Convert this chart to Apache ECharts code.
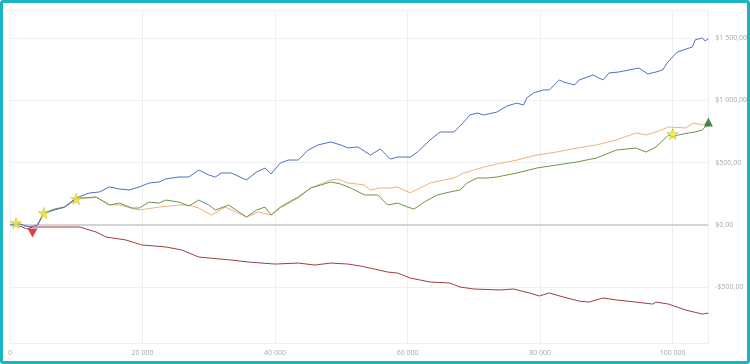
<!DOCTYPE html>
<html>
<head>
<meta charset="utf-8">
<script src="https://cdn.jsdelivr.net/npm/echarts@6/dist/echarts.min.js"></script>
<style>
html,body{margin:0;padding:0;background:#fff;}
#wrap{position:relative;width:750px;height:364px;}
#chart{position:absolute;left:0;top:0;width:750px;height:364px;}
#frame{position:absolute;left:0;top:0;width:750px;height:364px;box-sizing:border-box;border:3px solid #1ab4c1;border-radius:3px;pointer-events:none;}
</style>
</head>
<body>
<div id="wrap"><div id="chart"></div><div id="frame"></div></div>
<script>
// x positions in thousands of trades, values in $
const blueX = [0,1.5,3.0,4.2,5.1,6.7,8.2,10.0,12.0,13.5,15.0,16.5,18.0,19.5,21.0,22.5,23.5,25.5,27.0,28.5,30.0,31.0,31.9,33.4,35.7,37.2,38.5,39.4,40.8,42.0,43.5,45.0,46.5,48.4,49.9,51.0,52.5,54.4,55.9,57.4,58.5,60.4,61.5,63.4,64.9,67.0,68.5,69.4,70.5,71.5,73.5,75.0,76.5,77.5,78.0,79.0,80.5,81.4,82.9,83.5,85.2,85.9,88.0,89.5,90.4,91.9,93.4,94.9,96.3,97.5,98.5,99.3,100.7,101.6,103.0,103.4,104.5,104.9,105.4];
const blueY = [0,8,-16,0,96,120,144,217,257,265,305,289,281,305,337,345,369,385,385,441,401,385,417,417,361,425,457,409,497,521,521,601,642,666,642,618,626,561,610,529,545,545,585,682,746,746,826,882,898,882,906,954,978,962,1019,1059,1083,1083,1163,1147,1123,1163,1203,1163,1219,1227,1243,1259,1211,1227,1243,1307,1387,1403,1428,1484,1500,1476,1492];

const greenX = [0,0.9,2.2,3.4,4.2,5.1,6.7,8.2,10.0,10.9,13.0,15.0,16.5,18.4,19.5,21.0,22.5,23.5,25.5,27.0,28.5,30.0,31.0,33.0,35.7,37.2,38.5,39.4,40.8,43.5,45.4,46.9,48.4,49.9,51.4,53.5,55.5,57.0,58.5,60.0,61.0,62.5,64.5,66.4,67.9,69.0,70.5,72.0,73.5,76.5,79.5,82.5,85.5,88.5,91.5,94.5,96.0,97.5,99.4,100.0,100.9,102.4,103.4,104.5,104.9,105.4];
const greenY = [0,16,-8,-8,8,96,128,144,209,217,225,160,176,136,136,184,176,200,184,152,200,160,120,160,64,120,144,80,144,225,297,321,345,329,297,241,241,160,176,144,128,184,241,265,281,337,377,377,385,417,457,481,505,537,601,617,585,626,722,706,722,738,746,762,786,802];

const orangeX = [0,0.9,2.2,3.4,4.2,5.1,6.7,8.2,10.0,10.9,13.0,15.0,16.5,19.5,22.5,25.5,27.0,28.5,30.4,32.5,35.7,37.5,39.4,40.8,43.5,45.4,48.4,49.5,51.0,53.5,54.4,55.9,57.4,58.5,60.4,61.9,63.4,65.5,67.0,68.5,70.0,71.5,73.5,76.5,79.5,82.5,85.5,88.5,91.5,94.5,96.0,97.5,99.4,102.0,103.1,104.5,105.4];
const orangeY = [0,10,-6,-10,6,92,124,140,205,213,221,165,160,120,144,160,160,136,80,144,64,104,80,136,217,297,361,369,337,321,281,297,297,305,257,297,337,361,377,417,441,465,489,521,561,585,617,642,682,738,722,746,786,778,818,802,826];

const redX = [0,1.5,2.5,3.4,6.0,8.5,10.5,13.0,14.5,17.5,19.9,23.5,25.9,28.5,33.4,36.0,40.0,43.5,46.0,48.4,51.0,52.9,55.0,57.0,58.5,60.4,63.4,66.4,67.9,70.0,73.9,76.0,78.4,79.9,81.4,83.5,85.9,87.4,89.5,91.5,94.5,97.0,97.5,99.4,102.0,104.5,105.4];
const redY = [0,-8,-32,-16,-16,-16,-16,-56,-96,-120,-160,-176,-200,-257,-281,-297,-313,-305,-321,-305,-313,-329,-353,-377,-385,-425,-457,-465,-497,-513,-521,-513,-545,-569,-545,-577,-610,-618,-585,-601,-618,-634,-618,-634,-682,-714,-706];

// marker points
const starX = [0.9,5.1,10.0,100.0];
const starY = [16,96,209,730];
const downX = [3.4];
const downY = [-64];
const upX = [105.4];
const upY = [826];

const xMax = 105400, yMin = -946, yMax = 1724;

function pairs(xs, ys){ return xs.map((x,i)=>[x*1000, ys[i]]); }
function grp(n){ return String(Math.round(Math.abs(n))).replace(/\B(?=(\d{3})+(?!\d))/g,' '); }

const chart = echarts.init(document.getElementById('chart'), null, {renderer:'canvas'});
const lineBase = {type:'line', showSymbol:false, symbol:'none', lineStyle:{width:1}, animation:false};
chart.setOption({
  animation:false,
  textStyle:{fontFamily:'Open Sans'},
  grid:{left:10, right:37, top:10, bottom:21, containLabel:false},
  xAxis:{type:'value', min:0, max:xMax,
    axisLine:{show:false}, axisTick:{show:false},
    splitLine:{show:true, lineStyle:{color:'#efefef', width:1}},
    axisLabel:{fontSize:7, color:'#a8a8a8', margin:6, showMaxLabel:false,
      formatter:v=>grp(v)}},
  yAxis:{type:'value', position:'right', min:yMin, max:yMax,
    axisLine:{show:false}, axisTick:{show:false},
    splitLine:{show:true, lineStyle:{color:'#efefef', width:1}},
    axisLabel:{fontSize:7, color:'#a8a8a8', margin:7, showMinLabel:false, showMaxLabel:false,
      formatter:v=>(v<0?'-':'')+'$'+grp(v)+',00'}},
  series:[
    {type:'line', data:[], z:1, silent:true,
      markLine:{silent:true, symbol:'none', label:{show:false},
        lineStyle:{color:'#d4d4d4', width:2, type:'solid'}, data:[{yAxis:0}]}},
    Object.assign({}, lineBase, {name:'red', data:pairs(redX, redY), color:'#9e3d3d', z:2}),
    Object.assign({}, lineBase, {name:'orange', data:pairs(orangeX, orangeY), color:'#f0b07c', z:3}),
    Object.assign({}, lineBase, {name:'green', data:pairs(greenX, greenY), color:'#6a9748', z:4}),
    Object.assign({}, lineBase, {name:'blue', data:pairs(blueX, blueY), color:'#4d70c8', z:5}),
    {type:'scatter', data:pairs(starX, starY), symbol:'path://M50,0 L61,35 L98,35 L68,57 L79,91 L50,70 L21,91 L32,57 L2,35 L39,35 Z', symbolSize:11,
      itemStyle:{color:'#f5ea2c', borderColor:'#b8a800', borderWidth:0.6}, z:10, animation:false},
    {type:'scatter', data:pairs(downX, downY), symbol:'triangle', symbolRotate:180, symbolSize:[10,9],
      itemStyle:{color:'#d01414'}, z:10, animation:false},
    {type:'scatter', data:pairs(upX, upY), symbol:'triangle', symbolSize:[9,9],
      itemStyle:{color:'#1f6a1f'}, z:10, animation:false}
  ]
});
</script>
</body>
</html>
